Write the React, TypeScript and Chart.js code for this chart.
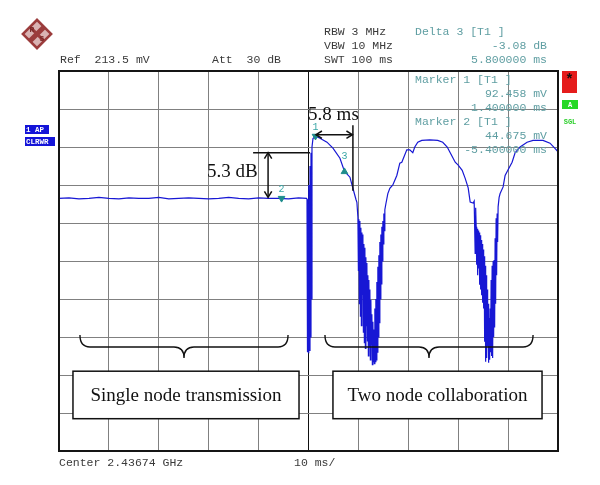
import React, { useEffect, useRef } from "react";
import { Chart, registerables } from "chart.js";

Chart.register(...registerables);

// ---- trace data: time (ms, relative to trigger) and level (dB relative to reference, 4 dB/div) ----
const flatTime = [-50, -48, -46, -44, -42, -40, -38, -36, -34, -32, -30, -28, -26, -24, -22, -20, -18, -16, -14, -12, -10, -8, -6, -4, -2, -0.4];
const flatLevel = [-13.4, -13.35, -13.45, -13.4, -13.3, -13.4, -13.45, -13.35, -13.4, -13.4, -13.3, -13.45, -13.4, -13.35, -13.4, -13.45, -13.4, -13.3, -13.4, -13.45, -13.35, -13.4, -13.4, -13.45, -13.35, -13.4];

const riseTime = [-0.3, -0.2, -0.1, 0, 0.1, 0.2, 0.3, 0.4, 0.5, 0.6, 0.7, 0.9, 1.4, 2.3, 3.7, 4.9, 6.3, 7.2, 8.3, 8.9, 9.5, 9.7];
const riseLevel = [-13.5, -29.6, -14.0, -29.7, -12.0, -29.4, -10.0, -28.0, -8.6, -24.0, -8.0, -7.1, -6.86, -7.07, -7.49, -8.12, -9.18, -10.55, -11.18, -12.34, -13.5, -13.82];

const dip1Time = [
  9.9, 10.0, 10.1, 10.2, 10.3, 10.4, 10.5, 10.6, 10.7, 10.8, 10.9, 11.0, 11.1, 11.2, 11.3, 11.4, 11.5, 11.6, 11.7, 11.8, 11.9,
  12.0, 12.1, 12.2, 12.3, 12.4, 12.5, 12.6, 12.7, 12.8, 12.9, 13.0, 13.1, 13.2, 13.3, 13.4, 13.5, 13.6, 13.7, 13.8, 13.9,
  14.0, 14.1, 14.2, 14.3, 14.4, 14.5, 14.6, 14.7, 14.8, 14.9, 15.0, 15.1, 15.2, 15.3,
];
const dip1Level = [
  -15.4, -21.0, -15.6, -24.5, -15.8, -25.8, -16.5, -26.8, -17.0, -23.5, -17.2, -27.5, -18.2, -28.6, -18.6, -29.2, -19.6, -26.8, -20.2, -28.4, -21.5,
  -30.0, -22.0, -29.0, -23.0, -30.4, -24.1, -28.8, -25.6, -30.9, -26.4, -30.6, -27.2, -30.8, -25.0, -30.6, -24.0, -30.4, -22.2, -29.6, -20.6,
  -28.0, -19.4, -26.5, -18.0, -24.0, -17.2, -22.4, -16.4, -20.0, -15.8, -18.2, -15.0, -16.8, -14.6,
];

const humpTime = [15.5, 15.9, 16.3, 16.9, 17.7, 18.3, 18.7, 19.7, 20.3, 20.9, 21.3, 21.9, 22.7, 24.3, 25.9, 26.9, 27.8, 28.4, 29.4, 30.0, 30.8, 31.4, 32.0, 32.4, 33.0, 33.2];
const humpLevel = [-14.0, -12.9, -12.35, -12.0, -11.0, -9.7, -9.6, -8.3, -8.3, -8.6, -8.0, -7.5, -7.3, -7.25, -7.3, -7.5, -8.0, -8.6, -9.6, -9.9, -10.45, -11.3, -12.3, -13.8, -13.9, -13.7];

const dip2Time = [
  33.4, 33.5, 33.6, 33.7, 33.8, 33.9, 34.0, 34.1, 34.2, 34.3, 34.4, 34.5, 34.6, 34.7, 34.8, 34.9, 35.0, 35.1, 35.2, 35.3, 35.4, 35.5, 35.6, 35.7,
  35.8, 35.9, 36.0, 36.1, 36.2, 36.3, 36.4, 36.5, 36.6, 36.7, 36.8, 36.9, 37.0, 37.1, 37.2, 37.3, 37.4, 37.5, 37.6, 37.7, 37.8, 37.9, 38.0,
];
const dip2Level = [
  -19.2, -14.4, -16.4, -20.4, -16.6, -21.5, -16.8, -20.8, -17.0, -22.5, -17.3, -23.0, -17.8, -23.6, -18.2, -24.4, -18.8, -25.0, -19.5, -28.5, -20.5, -30.6, -21.5, -30.2,
  -23.0, -29.0, -24.5, -30.7, -26.0, -30.4, -25.0, -29.6, -22.0, -30.0, -20.5, -30.2, -20.0, -28.0, -19.9, -27.0, -17.6, -24.5, -15.5, -21.5, -15.0, -18.0, -14.3,
];

const tailTime = [38.2, 38.4, 39.0, 39.4, 40.0, 40.8, 41.4, 42.4, 43.8, 45.0, 47.0, 48.4, 49.3, 50];
const tailLevel = [-13.3, -12.9, -12.2, -11.0, -10.4, -9.6, -8.6, -8.0, -7.5, -7.3, -7.3, -7.6, -8.1, -8.5];

const traceTime = [...flatTime, ...riseTime, ...dip1Time, ...humpTime, ...dip2Time, ...tailTime];
const traceLevel = [...flatLevel, ...riseLevel, ...dip1Level, ...humpLevel, ...dip2Level, ...tailLevel];

// ---- markers ----
const markerNames = ["1", "2", "3"];
const markerTime = [1.4, -5.4, 7.2];
const markerLevel = [-6.86, -13.4, -10.6];
const markerRotation = [180, 180, 0];

// ---- axis ----
const timeMin = -50;
const timeMax = 50;
const timeStep = 10;
const levelMin = -40;
const levelMax = 0;
const levelStep = 4;

// ---- texts ----
const refLabel = "Ref  213.5 mV";
const attLabel = "Att  30 dB";
const settingsLines = ["RBW 3 MHz", "VBW 10 MHz", "SWT 100 ms"];
const deltaLines = ["Delta 3 [T1 ]", "-3.08 dB", "5.800000 ms"];
const marker1Lines = ["Marker 1 [T1 ]", "92.458 mV", "1.400000 ms"];
const marker2Lines = ["Marker 2 [T1 ]", "44.675 mV", "-5.400000 ms"];
const centerLabel = "Center 2.43674 GHz";
const spanLabel = "10 ms/";
const traceTags = ["1 AP", "CLRWR"];
const regionLabels = ["Single node transmission", "Two node collaboration"];
const regionBoxStart = [-47.2, 4.9];
const regionBoxEnd = [-1.9, 46.8];
const braceStart = [-45.8, 3.3];
const braceEnd = [-4.1, 45.0];
const timeAnnotation = "5.8 ms";
const levelAnnotation = "5.3 dB";

const MONO = "'Liberation Mono', 'DejaVu Sans Mono', monospace";
const SERIF = "'Liberation Serif', 'DejaVu Serif', serif";

function arrowHead(ctx: CanvasRenderingContext2D, x: number, y: number, angle: number, size: number) {
  ctx.beginPath();
  ctx.moveTo(x + size * Math.cos(angle + Math.PI - 0.55), y + size * Math.sin(angle + Math.PI - 0.55));
  ctx.lineTo(x, y);
  ctx.lineTo(x + size * Math.cos(angle + Math.PI + 0.55), y + size * Math.sin(angle + Math.PI + 0.55));
  ctx.stroke();
}

function brace(ctx: CanvasRenderingContext2D, x1: number, x2: number, yTop: number, yMid: number, yTip: number) {
  const xm = (x1 + x2) / 2;
  const r = 10;
  ctx.beginPath();
  ctx.moveTo(x1, yTop);
  ctx.quadraticCurveTo(x1, yMid, x1 + r, yMid);
  ctx.lineTo(xm - r, yMid);
  ctx.quadraticCurveTo(xm, yMid, xm, yTip);
  ctx.quadraticCurveTo(xm, yMid, xm + r, yMid);
  ctx.lineTo(x2 - r, yMid);
  ctx.quadraticCurveTo(x2, yMid, x2, yTop);
  ctx.stroke();
}

const overlay = {
  id: "overlay",
  afterDraw(chart: any) {
    const ctx: CanvasRenderingContext2D = chart.ctx;
    const xs = chart.scales.x;
    const ys = chart.scales.y;
    const px = (t: number) => xs.getPixelForValue(t);
    const py = (d: number) => ys.getPixelForValue(d);
    const a = chart.chartArea;
    ctx.save();

    // frame
    ctx.strokeStyle = "#151515";
    ctx.lineWidth = 2;
    ctx.strokeRect(a.left, a.top, a.right - a.left, a.bottom - a.top);

    // header texts
    ctx.textBaseline = "middle";
    ctx.font = `11.5px ${MONO}`;
    ctx.fillStyle = "#3a3a3a";
    ctx.textAlign = "left";
    ctx.fillText(refLabel, 60, 60);
    ctx.fillText(attLabel, 212, 60);
    settingsLines.forEach((s, i) => ctx.fillText(s, 324, 32 + i * 14));
    ctx.fillStyle = "#5f9ea2";
    ctx.fillText(deltaLines[0], 415, 32);
    ctx.textAlign = "right";
    ctx.fillText(deltaLines[1], 547, 46);
    ctx.fillText(deltaLines[2], 547, 60);
    ctx.textAlign = "left";
    ctx.fillText(marker1Lines[0], 415, 80);
    ctx.textAlign = "right";
    ctx.fillText(marker1Lines[1], 547, 94);
    ctx.fillText(marker1Lines[2], 547, 108);
    ctx.textAlign = "left";
    ctx.fillText(marker2Lines[0], 415, 122);
    ctx.textAlign = "right";
    ctx.fillText(marker2Lines[1], 547, 136);
    ctx.fillText(marker2Lines[2], 547, 150);

    // footer
    ctx.textAlign = "left";
    ctx.fillStyle = "#3a3a3a";
    ctx.fillText(centerLabel, 59, a.bottom + 12);
    ctx.fillText(spanLabel, 294, a.bottom + 12);

    // marker labels
    ctx.font = `10px ${MONO}`;
    ctx.fillStyle = "#3aa6a6";
    ctx.textAlign = "center";
    markerNames.forEach((n, i) => {
      const off = markerRotation[i] === 0 ? -15 : -9;
      ctx.fillText(n, px(markerTime[i]), py(markerLevel[i]) + off);
    });

    // left trace tags
    ctx.font = `bold 7.5px ${MONO}`;
    ctx.fillStyle = "#1414d8";
    ctx.fillRect(25, 125, 24, 9);
    ctx.fillRect(25, 137, 30, 9);
    ctx.fillStyle = "#ffffff";
    ctx.textAlign = "left";
    ctx.fillText(traceTags[0], 26, 129.8);
    ctx.fillText(traceTags[1], 26, 141.8);

    // right status boxes
    ctx.fillStyle = "#e51c1c";
    ctx.fillRect(562, 71, 15, 22);
    ctx.fillStyle = "#111";
    ctx.font = `bold 14px ${MONO}`;
    ctx.textAlign = "center";
    ctx.fillText("*", 569.5, 80);
    ctx.fillStyle = "#25d825";
    ctx.fillRect(562, 100, 16, 9);
    ctx.fillStyle = "#fff";
    ctx.font = `bold 7px ${MONO}`;
    ctx.fillText("A", 570, 104.8);
    ctx.fillStyle = "#2ccf2c";
    ctx.fillText("SGL", 570, 122);

    // R&S logo
    ctx.save();
    ctx.translate(37, 34);
    ctx.rotate(Math.PI / 4);
    ctx.fillStyle = "#d9b3b3";
    ctx.fillRect(-10, -10, 20, 20);
    ctx.strokeStyle = "#9b3c3c";
    ctx.lineWidth = 2.5;
    ctx.strokeRect(-10, -10, 20, 20);
    ctx.fillStyle = "#9b3c3c";
    ctx.fillRect(-2.5, -10, 5, 20);
    ctx.fillRect(-10, -1.5, 20, 3);
    ctx.restore();
    ctx.fillStyle = "#7a2a2a";
    ctx.font = `bold 8px ${MONO}`;
    ctx.fillText("R", 32, 30);
    ctx.fillText("S", 42, 39);

    // annotations
    ctx.strokeStyle = "#111";
    ctx.fillStyle = "#111";
    ctx.lineWidth = 1.5;

    // 5.8 ms arrow
    const ay = py(-6.7);
    const ax1 = px(1.5);
    const ax2 = px(8.8);
    ctx.beginPath();
    ctx.moveTo(ax1, ay);
    ctx.lineTo(ax2, ay);
    ctx.stroke();
    arrowHead(ctx, ax1, ay, Math.PI, 7);
    arrowHead(ctx, ax2, ay, 0, 7);
    ctx.beginPath();
    ctx.moveTo(px(8.9), py(-5.7));
    ctx.lineTo(px(8.9), py(-12.6));
    ctx.stroke();
    ctx.font = `19px ${SERIF}`;
    ctx.textAlign = "center";
    ctx.fillText(timeAnnotation, px(5.0), py(-4.6));

    // 5.3 dB arrow
    const ly1 = py(-8.6);
    const ly2 = py(-13.3);
    const lx = px(-8.1);
    ctx.beginPath();
    ctx.moveTo(px(-11.1), ly1);
    ctx.lineTo(px(0.3), ly1);
    ctx.stroke();
    ctx.beginPath();
    ctx.moveTo(lx, ly1);
    ctx.lineTo(lx, ly2);
    ctx.stroke();
    arrowHead(ctx, lx, ly1, -Math.PI / 2, 7);
    arrowHead(ctx, lx, ly2, Math.PI / 2, 7);
    ctx.textAlign = "right";
    ctx.fillText(levelAnnotation, px(-10.2), py(-10.65));

    // braces
    ctx.lineWidth = 1.4;
    for (let i = 0; i < 2; i++) {
      brace(ctx, px(braceStart[i]), px(braceEnd[i]), py(-27.8), py(-29.05), py(-30.2));
    }

    // region boxes
    ctx.font = `19px ${SERIF}`;
    ctx.textAlign = "center";
    for (let i = 0; i < 2; i++) {
      const x1 = px(regionBoxStart[i]);
      const x2 = px(regionBoxEnd[i]);
      const y1 = py(-31.6);
      const y2 = py(-36.6);
      ctx.fillStyle = "#ffffff";
      ctx.fillRect(x1, y1, x2 - x1, y2 - y1);
      ctx.strokeStyle = "#111";
      ctx.lineWidth = 1.5;
      ctx.strokeRect(x1, y1, x2 - x1, y2 - y1);
      ctx.fillStyle = "#111";
      ctx.fillText(regionLabels[i], (x1 + x2) / 2, (y1 + y2) / 2 + 1);
    }

    ctx.restore();
  },
};

export default function App() {
  const canvasRef = useRef<HTMLCanvasElement | null>(null);

  useEffect(() => {
    if (!canvasRef.current) return;
    const traceData = traceTime.map((t, i) => ({ x: t, y: traceLevel[i] }));
    const markerData = markerTime.map((t, i) => ({ x: t, y: markerLevel[i] }));
    const chart = new Chart(canvasRef.current, {
      type: "line",
      data: {
        datasets: [
          {
            type: "scatter",
            label: "Markers",
            data: markerData,
            pointStyle: "triangle",
            pointRotation: markerRotation,
            pointRadius: 3.8,
            backgroundColor: "#1e8c8c",
            borderColor: "#1e8c8c",
            showLine: false,
            order: 0,
          } as any,
          {
            label: "Trace",
            data: traceData,
            borderColor: "#1717d4",
            borderWidth: 1.2,
            pointRadius: 0,
            tension: 0,
            fill: false,
            order: 1,
          },
        ],
      },
      options: {
        animation: false,
        responsive: false,
        layout: { padding: { left: 59, top: 71, right: 42, bottom: 34 } },
        plugins: { legend: { display: false }, tooltip: { enabled: false } },
        scales: {
          x: {
            type: "linear",
            min: timeMin,
            max: timeMax,
            ticks: { display: false, stepSize: timeStep },
            grid: {
              drawTicks: false,
              lineWidth: 1,
              color: (c: any) => (c.tick && c.tick.value === 0 ? "#111" : "#808080"),
            },
            border: { display: false },
          },
          y: {
            type: "linear",
            min: levelMin,
            max: levelMax,
            ticks: { display: false, stepSize: levelStep },
            grid: { drawTicks: false, lineWidth: 1, color: "#808080" },
            border: { display: false },
          },
        },
      },
      plugins: [overlay],
    });
    return () => chart.destroy();
  }, []);

  return (
    <div style={{ position: "fixed", left: 0, top: 0, width: 600, height: 485, background: "#fff" }}>
      <canvas ref={canvasRef} width={600} height={485} />
    </div>
  );
}
